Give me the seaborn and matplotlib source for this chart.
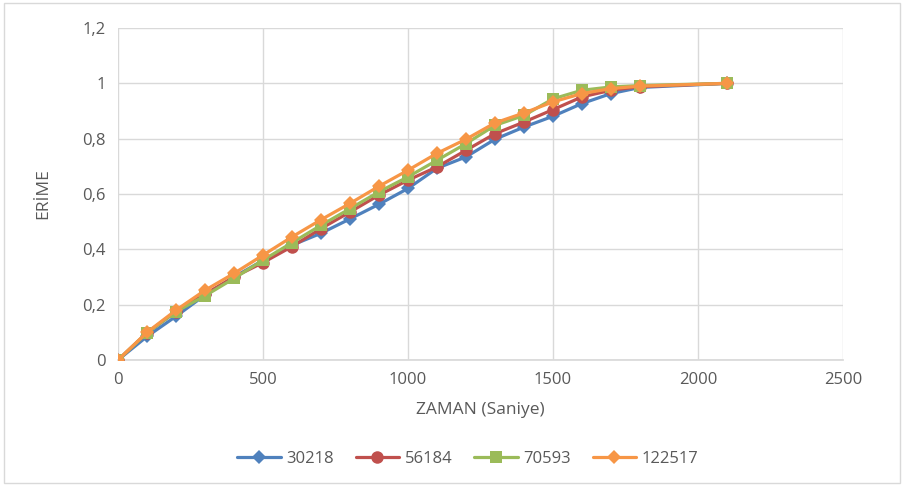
import matplotlib
matplotlib.use("Agg")
import matplotlib.pyplot as plt
import seaborn as sns
import pandas as pd
from matplotlib.patches import Rectangle

time_s = [0, 100, 200, 300, 400, 500, 600, 700, 800, 900, 1000, 1100, 1200, 1300, 1400, 1500, 1600, 1700, 1800, 2100]
s30218 = [0, 0.085, 0.158, 0.235, 0.300, 0.360, 0.415, 0.458, 0.510, 0.563, 0.620, 0.693, 0.734, 0.798, 0.842, 0.881, 0.927, 0.963, 0.985, 1.0]
s56184 = [0, 0.098, 0.175, 0.238, 0.300, 0.352, 0.410, 0.475, 0.535, 0.596, 0.650, 0.698, 0.758, 0.818, 0.860, 0.905, 0.951, 0.975, 0.988, 1.0]
s70593 = [0, 0.098, 0.175, 0.232, 0.295, 0.361, 0.424, 0.487, 0.547, 0.608, 0.662, 0.722, 0.782, 0.848, 0.884, 0.944, 0.975, 0.987, 0.992, 1.0]
s122517 = [0, 0.100, 0.180, 0.252, 0.313, 0.379, 0.445, 0.507, 0.566, 0.628, 0.686, 0.747, 0.798, 0.857, 0.893, 0.933, 0.963, 0.981, 0.990, 1.0]
series_names = ["30218", "56184", "70593", "122517"]
x_ticks = [0, 500, 1000, 1500, 2000, 2500]
y_ticks = [0, 0.2, 0.4, 0.6, 0.8, 1.0, 1.2]
y_tick_labels = ["0", "0,2", "0,4", "0,6", "0,8", "1", "1,2"]

frames = []
for name, vals in zip(series_names, [s30218, s56184, s70593, s122517]):
    frames.append(pd.DataFrame({"ZAMAN": time_s, "ERIME": vals, "seri": name}))
df = pd.concat(frames, ignore_index=True)

sns.set_theme(style="white")
plt.rcParams['font.family'] = ['Open Sans', 'DejaVu Sans']

fig = plt.figure(figsize=(9.04, 4.86), dpi=100)
ax = fig.add_axes([118/904, 1-360/486, (843-118)/904, (360-28)/486])

palette = {"30218": "#4F81BD", "56184": "#C0504D", "70593": "#9BBB59", "122517": "#F79646"}
markers = {"30218": "D", "56184": "o", "70593": "s", "122517": "D"}
sizes = {"30218": 7, "56184": 9, "70593": 9, "122517": 7}

for name in series_names:
    sub = df[df["seri"] == name]
    sns.lineplot(data=sub, x="ZAMAN", y="ERIME", ax=ax, color=palette[name],
                 marker=markers[name], markersize=sizes[name], markeredgewidth=0,
                 linewidth=2.3, label=name, zorder=3)

ax.set_xlim(0, 2500)
ax.set_ylim(0, 1.2)
ax.set_xticks(x_ticks)
ax.set_xticklabels([str(v) for v in x_ticks])
ax.set_yticks(y_ticks)
ax.set_yticklabels(y_tick_labels)
ax.grid(True, color="#D9D9D9", linewidth=1)
for s in ["top", "right", "left"]:
    ax.spines[s].set_visible(False)
ax.spines["bottom"].set_color("#D9D9D9")
ax.tick_params(axis="both", length=0, labelsize=12, labelcolor="#595959", pad=9)
for lab in ax.get_xticklabels() + ax.get_yticklabels():
    lab.set_clip_on(False)

ax.set_xlabel("ZAMAN (Saniye)", fontsize=12.5, color="#595959", labelpad=10)
ax.set_ylabel("ERİME", fontsize=12.5, color="#595959", labelpad=22)

handles, labels = ax.get_legend_handles_labels()
ax.legend(handles, labels, loc="center", bbox_to_anchor=(468/904, 1-459/486),
          bbox_transform=fig.transFigure, ncol=4, frameon=False, fontsize=12,
          labelcolor="#595959", handlelength=2.6, columnspacing=1.3, handletextpad=0.35)

fig.patches.append(Rectangle((4/904, 3/486), 896/904, 480/486, transform=fig.transFigure,
                             fill=False, edgecolor="#D9D9D9", linewidth=1))

fig.savefig("out.png", dpi=100)
